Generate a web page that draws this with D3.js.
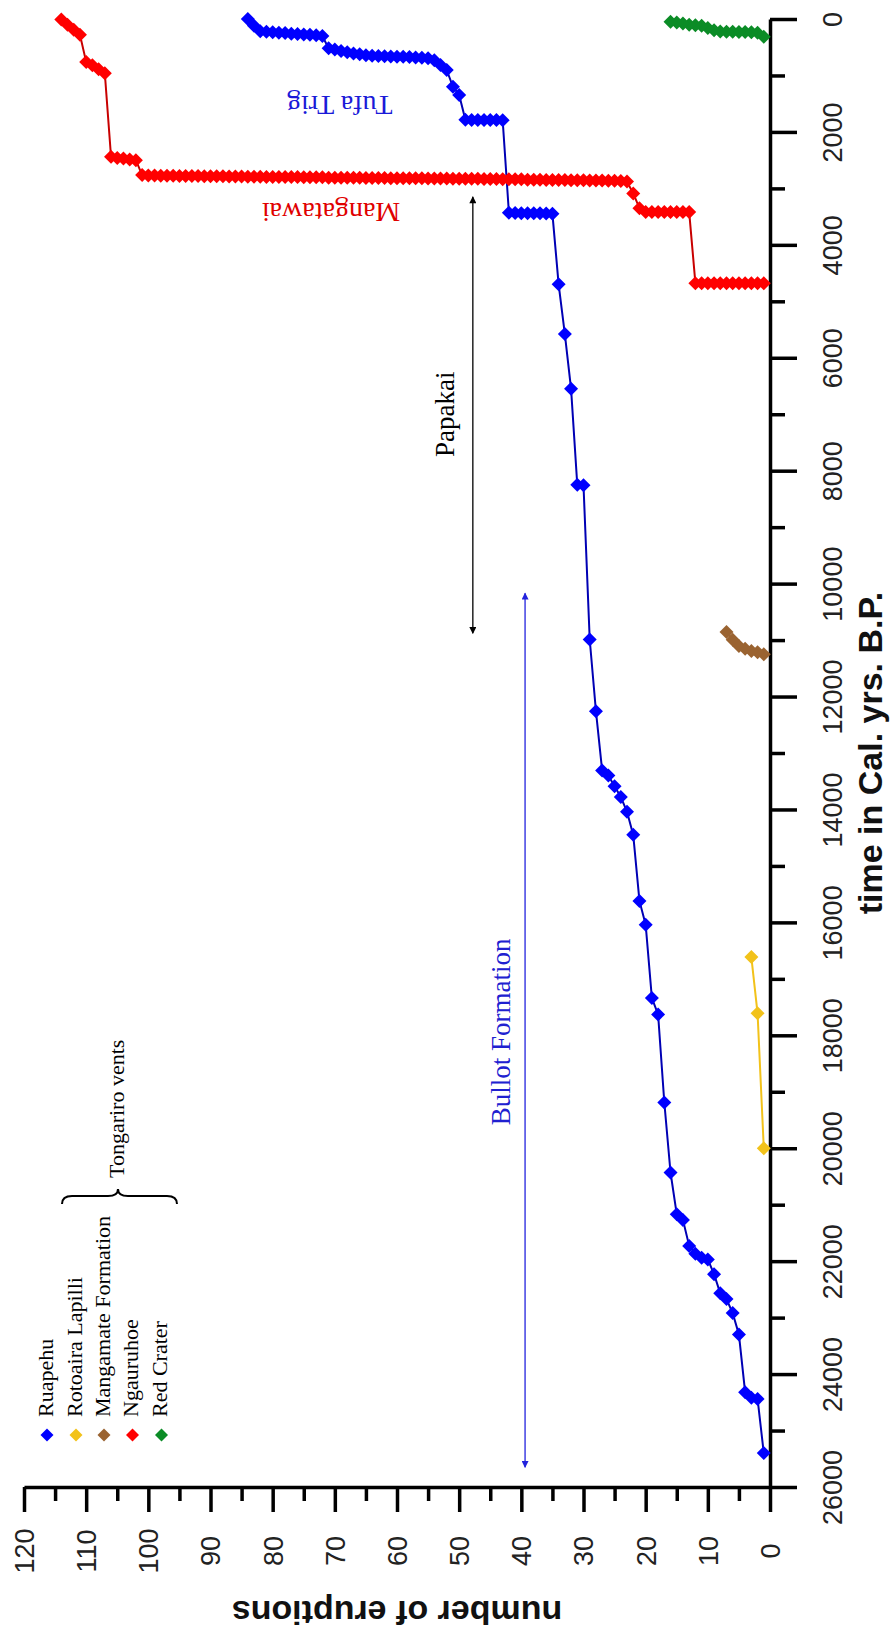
<!DOCTYPE html>
<html>
<head>
<meta charset="utf-8">
<script src="https://cdn.jsdelivr.net/npm/d3@7"></script>
<style>
body { margin: 0; background: #fff; }
#chart { width: 891px; height: 1631px; }
.serif { font-family: "Liberation Serif", "Times New Roman", serif; }
.sans { font-family: "Liberation Sans", Arial, sans-serif; }
</style>
</head>
<body>
<div id="chart"></div>
<script>
// age (cal. yrs B.P.) of each eruption, oldest first -> cumulative count = position in list
var ruapehu = [25400, 24440, 24420, 24320, 23300, 22920, 22670, 22570, 22230, 21970,
    21940, 21870, 21730, 21270, 21170, 20430, 19190, 17630, 17340, 16040,
    15620, 14450, 14040, 13780, 13590, 13400, 13310, 12260, 10990, 8260,
    8250, 6550, 5580, 4700, 3450, 3445, 3440, 3440, 3440, 3440,
    3435, 3430, 1795, 1790, 1790, 1790, 1790, 1790, 1785, 1346,
    1200, 903, 815, 730, 695, 685, 680, 675, 670, 670,
    665, 660, 655, 650, 640, 625, 610, 590, 565, 540,
    520, 300, 290, 280, 275, 265, 260, 250, 245, 235,
    225, 215, 120, 0];
var rotoaira = [20000, 17610, 16615];
var mangamate = [11250, 11214, 11192, 11154, 11105, 10993, 10857];
var ngauruhoe = [4680, 4680, 4680, 4680, 4680, 4680, 4680, 4680, 4680, 4680, 4680, 4680,
    3420, 3420, 3420, 3420, 3420, 3420, 3420, 3420,
    3350, 3090,
    2880, 2870,
    2865, 2865, 2860, 2860, 2860, 2855,
    2855, 2855, 2850, 2850, 2850, 2850, 2845, 2845, 2845, 2840,
    2840, 2840, 2840, 2835, 2835, 2835, 2830, 2830, 2830, 2830,
    2830, 2825, 2825, 2825, 2825, 2820, 2820, 2820, 2820, 2820,
    2820, 2815, 2815, 2815, 2815, 2810, 2810, 2810, 2810, 2810,
    2810, 2805, 2805, 2805, 2805, 2800, 2800, 2800, 2800, 2800,
    2800, 2795, 2795, 2795, 2790, 2790, 2790, 2785, 2785, 2785,
    2785, 2780, 2780, 2780, 2780, 2775, 2775, 2775, 2770, 2770, 2765,
    2500, 2490, 2470, 2460, 2440,
    960, 890, 820, 760,
    280, 190, 100, 10];
var redCrater = [313, 245, 235, 230, 230, 225, 225, 220, 200, 160, 120, 110, 100, 80, 60, 48];

var seriesNames = ["Ruapehu", "Rotoaira Lapilli", "Mangamate Formation", "Ngauruhoe", "Red Crater"];
var seriesColors = ["#0000ff", "#f2c21a", "#9a6331", "#ff0000", "#0b8c26"];
var lineColors = ["#0000b4", "#f2c21a", "#9a6331", "#c80000", "#0b8c26"];
var seriesTimes = [ruapehu, rotoaira, mangamate, ngauruhoe, redCrater];

var timeTicks = [0, 2000, 4000, 6000, 8000, 10000, 12000, 14000, 16000, 18000, 20000, 22000, 24000, 26000];
var timeMinor = [1000, 3000, 5000, 7000, 9000, 11000, 13000, 15000, 17000, 19000, 21000, 23000, 25000];
var countTicks = [0, 10, 20, 30, 40, 50, 60, 70, 80, 90, 100, 110, 120];
var countMinor = [5, 15, 25, 35, 45, 55, 65, 75, 85, 95, 105, 115];

var papakaiSpan = [3150, 10880];
var bullotSpan = [10170, 25650];

var width = 891, height = 1631;

var svg = d3.select("#chart")
    .append("svg")
    .attr("width", width)
    .attr("height", height)
    .style("background", "#fff");

// chart is drawn turned a quarter: time runs down, number of eruptions runs right-to-left
var y = d3.scaleLinear().domain([0, 26000]).range([19, 1487]);
var x = d3.scaleLinear().domain([0, 120]).range([770, 24]);

var axisFont = "Liberation Sans, Arial, sans-serif";

// time axis (right)
var yMinor = svg.append("g")
    .attr("transform", "translate(" + x(0) + ",0)")
    .call(d3.axisRight(y).tickValues(timeMinor).tickSize(15).tickFormat(""));
yMinor.select(".domain").remove();
yMinor.selectAll(".tick line").attr("stroke", "#000").attr("stroke-width", 3.5);

var yAxis = svg.append("g")
    .attr("transform", "translate(" + x(0) + ",0)")
    .call(d3.axisRight(y).tickValues(timeTicks).tickSize(27).tickSizeOuter(0).tickFormat(d3.format("d")))
    .attr("font-size", 27)
    .attr("font-family", axisFont);
yAxis.select(".domain").attr("stroke", "#000").attr("stroke-width", 3.5);
yAxis.selectAll(".tick line").attr("stroke", "#000").attr("stroke-width", 3.5);
yAxis.selectAll(".tick text")
    .attr("x", 0).attr("y", 0)
    .attr("dy", "0.35em")
    .attr("text-anchor", "middle")
    .attr("fill", "#222")
    .attr("transform", "translate(63,0) rotate(-90)");

// eruptions axis (bottom)
var xMinor = svg.append("g")
    .attr("transform", "translate(0," + y(26000) + ")")
    .call(d3.axisBottom(x).tickValues(countMinor).tickSize(14).tickFormat(""));
xMinor.select(".domain").remove();
xMinor.selectAll(".tick line").attr("stroke", "#000").attr("stroke-width", 3.5);

var xAxis = svg.append("g")
    .attr("transform", "translate(0," + y(26000) + ")")
    .call(d3.axisBottom(x).tickValues(countTicks).tickSize(25).tickSizeOuter(0))
    .attr("font-size", 27)
    .attr("font-family", axisFont);
xAxis.select(".domain").attr("stroke", "#000").attr("stroke-width", 3.5);
xAxis.selectAll(".tick line").attr("stroke", "#000").attr("stroke-width", 3.5);
xAxis.selectAll(".tick text")
    .attr("x", 0).attr("y", 0)
    .attr("dy", "0.35em")
    .attr("text-anchor", "middle")
    .attr("fill", "#222")
    .attr("transform", "translate(0,64) rotate(-90)");

// axis titles
svg.append("text")
    .attr("class", "sans")
    .attr("transform", "translate(" + ((x(0) + x(120)) / 2) + ",1601) rotate(180)")
    .attr("text-anchor", "middle")
    .attr("font-size", 34)
    .attr("font-weight", "bold")
    .attr("fill", "#111")
    .text("number of eruptions");

svg.append("text")
    .attr("class", "sans")
    .attr("transform", "translate(882," + ((y(0) + y(26000)) / 2) + ") rotate(-90)")
    .attr("text-anchor", "middle")
    .attr("font-size", 34)
    .attr("font-weight", "bold")
    .attr("fill", "#111")
    .text("time in Cal. yrs. B.P.");

// arrow heads
var defs = svg.append("defs");
function arrowHead(id, color) {
    defs.append("marker")
        .attr("id", id)
        .attr("viewBox", "0 0 10 10")
        .attr("refX", 9).attr("refY", 5)
        .attr("markerUnits", "userSpaceOnUse")
        .attr("markerWidth", 9).attr("markerHeight", 7)
        .attr("orient", "auto-start-reverse")
        .append("path")
        .attr("d", "M0,0 L10,5 L0,10 z")
        .attr("fill", color);
}
arrowHead("arrowBlack", "#000");
arrowHead("arrowBlue", "#2222dd");

svg.append("line")
    .attr("x1", x(47.8)).attr("x2", x(47.8))
    .attr("y1", y(papakaiSpan[0])).attr("y2", y(papakaiSpan[1]))
    .attr("stroke", "#000").attr("stroke-width", 1.3)
    .attr("marker-start", "url(#arrowBlack)")
    .attr("marker-end", "url(#arrowBlack)");

svg.append("line")
    .attr("x1", x(39.4)).attr("x2", x(39.4))
    .attr("y1", y(bullotSpan[0])).attr("y2", y(bullotSpan[1]))
    .attr("stroke", "#2222dd").attr("stroke-width", 1.3)
    .attr("marker-start", "url(#arrowBlue)")
    .attr("marker-end", "url(#arrowBlue)");

svg.append("text")
    .attr("class", "serif")
    .attr("transform", "translate(" + x(50.8) + "," + y(7000) + ") rotate(-90)")
    .attr("text-anchor", "middle")
    .attr("font-size", 27)
    .attr("fill", "#000")
    .text("Papakai");

svg.append("text")
    .attr("class", "serif")
    .attr("transform", "translate(" + x(41.8) + "," + y(17940) + ") rotate(-90)")
    .attr("text-anchor", "middle")
    .attr("font-size", 27)
    .attr("fill", "#2020d0")
    .text("Bullot Formation");

svg.append("text")
    .attr("class", "serif")
    .attr("transform", "translate(" + x(69.2) + "," + y(1364) + ") rotate(180)")
    .attr("text-anchor", "middle")
    .attr("font-size", 28)
    .attr("fill", "#1a1ad8")
    .text("Tufa Trig");

svg.append("text")
    .attr("class", "serif")
    .attr("transform", "translate(" + x(70.6) + "," + y(3259) + ") rotate(180)")
    .attr("text-anchor", "middle")
    .attr("font-size", 28)
    .attr("fill", "#e00000")
    .text("Mangatawai");

// series
var diamond = {
    draw: function(ctx, size) {
        var r = Math.sqrt(size) / 2;
        ctx.moveTo(0, -r);
        ctx.lineTo(r, 0);
        ctx.lineTo(0, r);
        ctx.lineTo(-r, 0);
        ctx.closePath();
    }
};

var line = d3.line()
    .x(function(d) { return x(d.n); })
    .y(function(d) { return y(d.t); });

seriesTimes.forEach(function(times, k) {
    var pts = times.map(function(t, i) { return {t: t, n: i + 1}; });
    var g = svg.append("g").attr("class", "series");
    g.append("path")
        .datum(pts)
        .attr("d", line)
        .attr("fill", "none")
        .attr("stroke", lineColors[k])
        .attr("stroke-width", 2);
    g.selectAll("path.pt")
        .data(pts)
        .enter()
        .append("path")
        .attr("class", "pt")
        .attr("transform", function(d) { return "translate(" + x(d.n) + "," + y(d.t) + ")"; })
        .attr("d", d3.symbol().type(diamond).size(196))
        .attr("fill", seriesColors[k]);
});

// legend
var legend = svg.append("g").attr("class", "legend");
var legendX = [47, 76, 104, 132.5, 161.5];
legend.selectAll("path.key")
    .data(seriesNames)
    .enter()
    .append("path")
    .attr("class", "key")
    .attr("transform", function(d, i) { return "translate(" + legendX[i] + ",1435)"; })
    .attr("d", d3.symbol().type(diamond).size(169))
    .attr("fill", function(d, i) { return seriesColors[i]; });

legend.selectAll("text.keylabel")
    .data(seriesNames)
    .enter()
    .append("text")
    .attr("class", "keylabel serif")
    .attr("transform", function(d, i) { return "translate(" + (legendX[i] + 5.5) + ",1417) rotate(-90)"; })
    .attr("font-size", 22)
    .attr("fill", "#000")
    .text(function(d) { return d; });

legend.append("path")
    .attr("d", "M62,1204 Q62,1196 72,1196 L108,1196 Q118,1196 118,1189 Q118,1196 128,1196 L167,1196 Q177,1196 177,1204")
    .attr("fill", "none")
    .attr("stroke", "#000")
    .attr("stroke-width", 2);

legend.append("text")
    .attr("class", "serif")
    .attr("transform", "translate(124,1178) rotate(-90)")
    .attr("font-size", 22)
    .attr("fill", "#000")
    .text("Tongariro vents");
</script>
</body>
</html>
